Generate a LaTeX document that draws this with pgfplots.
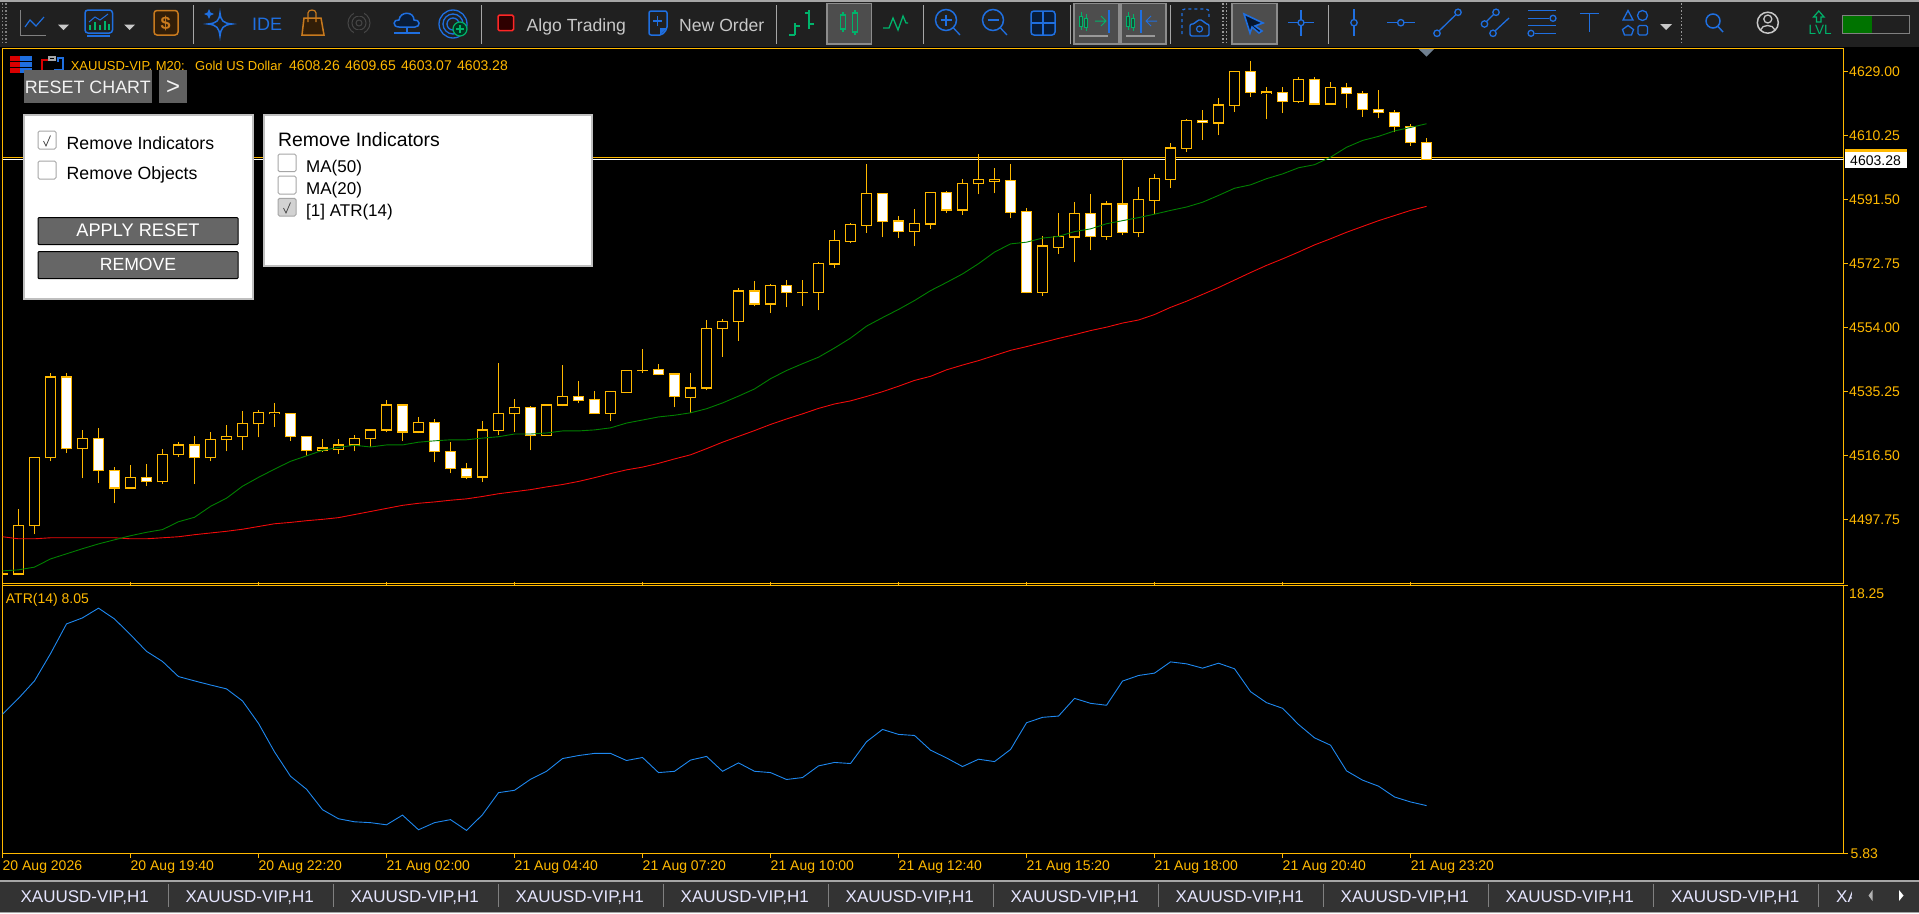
\documentclass[border=0pt]{standalone}
\usepackage{pgfplots}
\usepackage{pgfplotstable}
\usepackage{fontspec}
\setmainfont{Liberation Sans}
\pgfplotsset{compat=1.18}
\definecolor{gld}{HTML}{FFB900}
\definecolor{ma20}{HTML}{008000}
\definecolor{ma50}{HTML}{F00A0A}
\definecolor{atrc}{HTML}{1E88F0}
\definecolor{barbg}{HTML}{202020}
\definecolor{tabbg}{HTML}{333333}
\definecolor{ib}{HTML}{1F6FE0}
\definecolor{ig}{HTML}{00B36B}
\definecolor{io}{HTML}{C87A1E}
\definecolor{btn}{HTML}{666666}
\definecolor{txt}{HTML}{C8C8C8}
\definecolor{slate}{HTML}{708090}
\newcommand\fs[1]{\fontsize{#1}{#1}\selectfont}
% n low bot top high (bull = hollow body)
\pgfplotstableread{
n lo bot top hi
0 4481.6 4481.6 4481.9 4481.9
1 4481.4 4481.8 4495.9 4500.7
2 4493.4 4495.9 4515.8 4516.2
3 4514.8 4515.8 4539.5 4540.8
5 4509.8 4518.5 4521.4 4524.1
8 4507.0 4507.0 4510.0 4513.6
10 4508.1 4508.8 4516.7 4518.5
11 4516.0 4516.7 4519.6 4520.5
13 4514.8 4515.8 4521.1 4523.5
14 4517.7 4521.1 4522.0 4525.3
15 4518.0 4522.0 4525.8 4529.4
16 4521.8 4525.8 4529.0 4529.7
17 4524.8 4528.7 4529.1 4532.0
20 4517.5 4517.9 4518.7 4521.2
21 4516.9 4518.2 4519.6 4521.2
22 4517.7 4519.6 4521.4 4522.6
23 4519.0 4521.4 4524.0 4524.3
24 4523.3 4524.0 4531.3 4532.9
26 4523.0 4523.4 4526.1 4527.9
30 4508.7 4510.2 4524.0 4526.7
31 4522.4 4523.9 4528.7 4543.7
32 4523.5 4528.7 4530.5 4533.2
34 4522.3 4522.3 4531.3 4531.7
35 4530.9 4531.3 4533.7 4542.9
38 4526.5 4528.9 4535.2 4535.5
39 4535.0 4535.0 4541.3 4541.3
40 4540.6 4541.3 4541.5 4547.8
43 4529.0 4533.6 4536.3 4540.7
44 4535.6 4536.3 4553.6 4556.3
45 4545.3 4553.6 4555.7 4556.6
46 4550.0 4555.7 4564.7 4565.7
48 4558.2 4560.9 4566.2 4566.8
50 4560.4 4564.2 4564.2 4568.0
51 4559.0 4564.2 4572.7 4573.3
52 4571.4 4572.6 4579.4 4582.7
53 4578.7 4579.3 4584.1 4584.7
54 4581.8 4584.0 4593.2 4602.0
57 4577.8 4582.2 4584.4 4588.8
58 4582.8 4584.3 4593.5 4593.5
60 4586.9 4588.4 4596.1 4597.6
61 4593.0 4596.1 4597.3 4604.7
62 4593.3 4596.9 4597.3 4600.6
65 4563.2 4564.3 4577.9 4580.9
66 4575.5 4577.5 4580.6 4587.6
67 4573.1 4580.5 4587.3 4590.9
69 4579.6 4580.7 4590.2 4591.2
71 4580.4 4581.9 4591.4 4595.3
72 4587.2 4591.3 4597.6 4599.1
73 4595.0 4597.4 4606.6 4608.1
74 4605.4 4606.5 4614.6 4615.1
76 4610.3 4613.9 4619.2 4621.1
77 4617.1 4619.1 4628.9 4628.9
79 4615.0 4622.6 4623.0 4624.6
81 4619.9 4620.3 4626.6 4627.5
83 4619.5 4619.5 4624.2 4625.8
}\bull
% n low bot top high (bear = white body)
\pgfplotstableread{
n lo bot top hi
4 4517.2 4518.5 4539.5 4540.8
6 4508.4 4512.0 4521.4 4524.7
7 4502.5 4507.0 4512.0 4513.0
9 4507.5 4508.8 4510.0 4513.9
12 4508.1 4515.8 4519.6 4522.3
18 4520.7 4522.0 4528.7 4529.1
19 4516.4 4517.9 4522.0 4522.3
25 4520.7 4523.4 4531.3 4531.3
27 4514.5 4517.6 4526.1 4527.2
28 4511.3 4512.6 4517.6 4520.6
29 4509.5 4510.2 4512.6 4514.4
33 4518.0 4522.3 4530.5 4531.1
36 4531.8 4532.7 4533.7 4538.2
37 4528.9 4528.9 4532.8 4535.5
41 4540.0 4540.3 4541.6 4543.2
42 4530.6 4533.7 4540.4 4540.7
47 4560.2 4560.9 4564.7 4567.5
49 4559.9 4564.2 4566.2 4567.8
55 4580.4 4585.1 4593.2 4593.2
56 4580.2 4582.2 4585.2 4586.8
59 4587.5 4588.4 4593.5 4594.1
63 4586.0 4587.8 4597.0 4601.8
64 4564.0 4564.3 4587.9 4589.1
68 4576.6 4580.7 4587.3 4593.0
70 4581.0 4581.9 4590.2 4603.5
75 4608.9 4614.0 4614.6 4617.6
78 4621.5 4622.9 4628.9 4632.2
80 4616.8 4620.3 4622.8 4624.6
82 4619.5 4619.5 4626.6 4627.5
84 4618.2 4622.5 4624.2 4625.5
85 4615.6 4617.8 4622.5 4623.4
86 4615.3 4616.9 4617.8 4623.7
87 4611.2 4612.8 4616.9 4617.6
88 4607.3 4608.1 4612.8 4613.5
89 4603.07 4603.28 4608.26 4609.65
}\bear
\pgfplotstableread{
n maa mab atr
0 4482.7 4492.7 12.28
1 4483.0 4492.1 13.02
2 4483.8 4492.1 13.83
3 4486.2 4492.4 15.09
4 4487.7 4492.4 16.47
5 4489.2 4492.4 16.75
6 4490.6 4492.4 17.20
7 4491.8 4492.4 16.70
8 4493.0 4492.1 15.97
9 4494.0 4492.1 15.20
10 4494.8 4492.4 14.73
11 4497.1 4492.7 14.03
12 4498.4 4493.3 13.83
13 4501.6 4493.8 13.64
14 4504.0 4494.3 13.46
15 4507.5 4494.9 12.90
16 4510.1 4495.7 11.86
17 4512.5 4496.5 10.54
18 4514.8 4496.9 9.41
19 4516.4 4497.4 8.81
20 4518.0 4497.8 7.86
21 4518.9 4498.3 7.44
22 4519.5 4499.2 7.30
23 4519.0 4500.1 7.26
24 4519.6 4501.0 7.16
25 4519.6 4501.9 7.61
26 4520.4 4502.5 6.93
27 4520.8 4502.9 7.26
28 4521.1 4503.4 7.40
29 4521.1 4503.8 6.90
30 4521.6 4504.5 7.63
31 4522.0 4505.3 8.65
32 4522.8 4505.9 8.76
33 4522.8 4506.5 9.27
34 4523.1 4507.3 9.64
35 4523.7 4508.0 10.23
36 4523.7 4508.9 10.37
37 4524.0 4510.0 10.47
38 4524.6 4511.2 10.47
39 4526.0 4512.3 10.14
40 4526.9 4513.1 10.28
41 4527.8 4514.2 9.58
42 4528.3 4515.5 9.64
43 4529.0 4516.7 10.16
44 4530.2 4518.5 10.33
45 4531.9 4520.4 9.64
46 4533.9 4522.1 10.03
47 4536.0 4523.8 9.64
48 4539.0 4525.6 9.58
49 4541.4 4527.2 9.26
50 4543.4 4528.7 9.35
51 4545.3 4530.3 9.89
52 4548.0 4531.6 10.05
53 4550.9 4532.5 10.00
54 4554.4 4533.8 11.01
55 4556.9 4535.2 11.58
56 4559.3 4536.8 11.35
57 4561.9 4538.5 11.30
58 4564.8 4539.7 10.62
59 4567.2 4541.6 10.26
60 4569.7 4543.0 9.86
61 4572.7 4544.3 10.20
62 4576.1 4545.8 10.09
63 4578.5 4547.3 10.65
64 4579.0 4548.4 11.89
65 4580.2 4549.6 12.14
66 4580.7 4550.8 12.20
67 4582.1 4551.9 13.02
68 4582.9 4553.1 12.79
69 4584.4 4554.1 12.70
70 4585.3 4555.3 13.82
71 4586.2 4556.2 14.08
72 4587.2 4557.8 14.19
73 4588.3 4559.9 14.71
74 4589.3 4561.7 14.62
75 4590.7 4563.7 14.42
76 4592.7 4565.7 14.65
77 4594.8 4567.9 14.39
78 4595.8 4570.1 13.33
79 4597.6 4572.2 12.82
80 4599.0 4574.1 12.56
81 4600.8 4576.1 11.81
82 4601.7 4578.2 11.19
83 4603.9 4580.0 10.85
84 4606.8 4581.9 9.66
85 4608.8 4583.6 9.23
86 4610.0 4585.3 8.95
87 4611.6 4586.8 8.45
88 4612.6 4588.3 8.22
89 4613.7 4589.5 8.05
}\ind
\pgfplotsset{
  mt/.style={scale only axis, width=1841pt, xmin=0, xmax=115.06,
    axis line style={gld, line width=1.2pt},
    tick style={gld, line width=1.2pt}, major tick length=4pt, tick align=outside,
    ytick pos=right, yticklabel pos=right,
    tick label style={font=\fs{14}, text=gld, inner sep=0pt}},
  body/.style 2 args={forget plot, draw=none, no markers,
    error bars/.cd, y dir=plus, y explicit, error mark=none,
    error bar style={solid, draw=#1, line width=#2}},
}
\begin{document}
\begin{tikzpicture}
\path[use as bounding box] (0,0) rectangle (1919pt,-913pt);
\fill[black] (0,0) rectangle (1919pt,-913pt);
\begin{axis}[mt, at={(2.5pt,-48.5pt)}, anchor=north west, height=535pt,
  ymin=4479, ymax=4635.74, xtick=\empty,
  ytick={4497.75,4516.50,4535.25,4554.00,4572.75,4591.50,4610.25,4629.00},
  yticklabels={4497.75,4516.50,4535.25,4554.00,4572.75,4591.50,4610.25,4629.00},
  yticklabel style={anchor=west, xshift=1.5pt}]
\addplot[forget plot, gld, line width=1.2pt] coordinates {(0,4603.87) (115.06,4603.87)};
\addplot[forget plot, white, line width=1.2pt] coordinates {(0,4603.28) (115.06,4603.28)};
\addplot[body={gld}{1.2pt}] table[x=n, y=lo, y error expr=\thisrow{hi}-\thisrow{lo}] {\bull};
\addplot[body={gld}{1.2pt}] table[x=n, y=lo, y error expr=\thisrow{hi}-\thisrow{lo}] {\bear};
\addplot[body={gld}{11.4pt}] table[x=n, y expr=\thisrow{bot}-0.175, y error expr=\thisrow{top}-\thisrow{bot}+0.35] {\bull};
\addplot[body={gld}{11.4pt}] table[x=n, y expr=\thisrow{bot}-0.175, y error expr=\thisrow{top}-\thisrow{bot}+0.35] {\bear};
\addplot[body={black}{9pt}] table[x=n, y expr=\thisrow{bot}+0.175, y error expr={max(0,\thisrow{top}-\thisrow{bot}-0.35)}] {\bull};
\addplot[body={white}{9pt}] table[x=n, y expr=\thisrow{bot}+0.175, y error expr={max(0,\thisrow{top}-\thisrow{bot}-0.35)}] {\bear};
\addplot[forget plot, ma50, line width=0.9pt] table[x=n, y=mab] {\ind};
\addplot[forget plot, ma20, line width=0.9pt] table[x=n, y=maa] {\ind};
\end{axis}
\begin{axis}[mt, at={(2.5pt,-585.5pt)}, anchor=north west, height=268pt,
  ymin=5.83, ymax=18.25,
  xtick={0,8,16,24,32,40,48,56,64,72,80,88},
  xticklabels={20 Aug 2026,20 Aug 19:40,20 Aug 22:20,21 Aug 02:00,21 Aug 04:40,21 Aug 07:20,21 Aug 10:00,21 Aug 12:40,21 Aug 15:20,21 Aug 18:00,21 Aug 20:40,21 Aug 23:20},
  xticklabel style={anchor=north west, yshift=-3pt},
  ytick={18.25}, yticklabels={18.25},
  yticklabel style={anchor=west, xshift=1.5pt, yshift=-8pt},
  extra y ticks={5.83}, extra y tick labels={5.83},
  extra y tick style={yticklabel style={anchor=west, xshift=1.5pt, yshift=8pt}}]
\addplot[forget plot, atrc, line width=0.9pt] table[x=n, y=atr] {\ind};
\end{axis}
\begin{scope}[x=1pt, y=-1pt, every node/.style={inner sep=0pt, anchor=base west}]
% toolbar
\fill[barbg] (0,0) rectangle (1919,46.5);
\fill[gray!70] (0,0) rectangle (1919,1.8);
% tab bar
\fill[tabbg] (0,880) rectangle (1919,913);
\fill[gray!70] (0,880) rectangle (1919,881.5);
\fill[gray!70] (0,911.5) rectangle (1919,913);
\foreach \x in {20.4,185.4,350.4,515.5,680.5,845.5,1010.5,1175.5,1340.5,1505.5,1671} {
  \node[text=white!90!blue] at (\x,902.7) {\fs{17}XAUUSD-VIP,H1};
}
\foreach \x in {168.6,333.5,498.4,663.4,828.4,993.4,1158.4,1323.4,1488.4,1653.4,1818.4} {
  \draw[gray, line width=0.8pt] (\x,884) -- (\x,907);
}
\begin{scope}\clip (1830,880) rectangle (1851,913);
\node[text=white!90!blue] at (1836,902.7) {\fs{17}XAUUSD-VIP,H1};\end{scope}
\fill[gray!60] (1872.5,890) -- (1872.5,901) -- (1868.5,895.5) -- cycle;
\fill[white] (1899,890) -- (1899,901) -- (1903.5,895.5) -- cycle;
% toolbar grips and separators
\foreach \x in {2.5,6} \draw[gray, line width=1.5pt, dash pattern=on 1.5pt off 2pt] (\x,3) -- (\x,44);
\foreach \x in {1223,1226.5} \draw[gray!80, line width=1.5pt, dash pattern=on 1.5pt off 2pt] (\x,3) -- (\x,44);
\draw[gray!80, line width=1.5pt, dash pattern=on 1.5pt off 2pt] (1681.6,3) -- (1681.6,44);
\foreach \x in {193.5,481.6,776,923,1070,1170.6,1328.6} \draw[gray!70, line width=0.8pt] (\x,5) -- (\x,44);
% left icons
\draw[gray, line width=1pt] (20.4,10) -- (20.4,35) -- (45.7,35);
\draw[ib, line width=1.2pt] (25,27) -- (30,20) -- (36,26) -- (44,17);
\foreach \x in {58,124} \fill[txt] (\x,24.5) -- (\x+11,24.5) -- (\x+5.5,30) -- cycle;
\draw[ib, line width=1.5pt, rounded corners=3pt] (85,10) rectangle (112.5,33);
\draw[ib, line width=1.2pt] (87,36) -- (110,36);
\draw[ib, line width=1pt] (89,22) -- (95,17) -- (100,20) -- (108,14);
\foreach \x/\h in {90/5,95/8,100/5,105/9,109/6} \draw[ig, line width=1.3pt] (\x,30) -- (\x,30-\h);
\draw[io, line width=1.5pt, rounded corners=3pt, fill=io!25!black] (154,10.5) rectangle (178,35);
\node[text=io] at (160.5,29.5) {\fs{18}\textbf{\$}};
\draw[ib, line width=1.5pt] (220,13) .. controls (221,21) and (223,23) .. (232,24) .. controls (223,25) and (221,28) .. (220,36) .. controls (219,28) and (217,25) .. (208,24) .. controls (217,23) and (219,21) .. (220,13) -- cycle;
\fill[ib] (209,9) -- (210.5,12.5) -- (214,14) -- (210.5,15.5) -- (209,19) -- (207.5,15.5) -- (204,14) -- (207.5,12.5) -- cycle;
\node[text=ib] at (252,30) {\fs{18}IDE};
\draw[io, line width=1.5pt, fill=io!25!black] (304,18) -- (321,18) -- (324,35) -- (302,35) -- cycle;
\draw[io, line width=1.2pt] (308,22) -- (308,13) .. controls (308,9) and (316,9) .. (316,13) -- (316,22);
\foreach \r in {3,7,11} \draw[gray!55!black, line width=1pt] (359,23) circle[radius=\r];
\fill[barbg] (354,10) rectangle (364,16); \fill[barbg] (354,30) rectangle (364,36);
\draw[ib, line width=1.5pt, fill=ib!25!black] (399,27) .. controls (392,27) and (393,19) .. (399,20) .. controls (400,11) and (414,11) .. (414,20) .. controls (420,19) and (421,27) .. (415,27) -- cycle;
\draw[ib, line width=1.2pt] (407,27) -- (407,33); \draw[ib, line width=1.2pt] (394,33) -- (420,33);
\foreach \r in {6,10,14} \draw[ib, line width=1.3pt] (453,24) circle[radius=\r];
\draw[ig, line width=1.2pt, fill=black!70!ig] (460,29) circle[radius=7];
\draw[ig, line width=1.2pt] (456,29) -- (464,29) (460,25) -- (460,33);
\draw[red!85!white, line width=1.5pt, fill=red!18!black, rounded corners=1.5pt] (498,15) rectangle (513.5,30.7);
\node[text=txt] at (526.5,31) {\fs{17.6}Algo Trading};
\draw[ib, line width=1.5pt, rounded corners=2pt] (649,11) -- (649,35) -- (662,35) -- (667,29) -- (667,11) -- cycle;
\fill[ib] (660,35) -- (667,28) -- (660,28) -- cycle;
\draw[ib, line width=1.2pt] (653,21) -- (662,21) (657.5,16) -- (657.5,26);
\node[text=txt] at (679,31) {\fs{17.6}New Order};
% chart-type buttons
\foreach \a/\b in {827/871.5,1074/1119,1121/1166,1232/1277} {
  \draw[gray!90!white, line width=1.3pt, fill=white!20!barbg] (\a,3.5) rectangle (\b,44);
}
\draw[ig, line width=1.2pt] (795,23) -- (795,35) (789,35) -- (795,35) (795,26) -- (800,26) (809,10) -- (809,29) (805,13) -- (809,13) (809,24) -- (814,24);
\foreach \x/\a/\b in {843/12/32,855/10/35} {
  \draw[ig, line width=1.2pt] (\x,\a) -- (\x,\b);
  \fill[white!20!barbg, draw=ig, line width=1.2pt] (\x-2.8,\a+3) rectangle (\x+2.8,\b-3);
}
\draw[ig, line width=1.3pt] (883,28) -- (889,28) -- (893,18) -- (898,30) -- (903,16) -- (906,23) -- (908,23);
\foreach \x in {946,993} {
  \draw[ib, line width=1.5pt] (\x,20) circle[radius=10.5];
  \draw[ib, line width=1.3pt] (\x+7.5,28) -- (\x+14,35);
  \draw[ib, line width=1.3pt] (\x-5.5,20) -- (\x+5.5,20);
}
\draw[ib, line width=1.3pt] (946,14.5) -- (946,25.5);
\draw[ib, line width=1.5pt, fill=ib!25!black, rounded corners=3pt] (1031,11) rectangle (1055,35);
\draw[ib, line width=1.3pt] (1043,11) -- (1043,35) (1031,23) -- (1055,23);
\foreach \x in {1081,1128} {
  \foreach \d/\a/\b in {0/12/30,5/14/31} {
    \draw[ig, line width=1pt] (\x+\d,\a) -- (\x+\d,\b);
    \draw[ig, line width=1pt, fill=ig!30!barbg] (\x+\d-1.5,\a+4) rectangle (\x+\d+1.5,\b-4);
  }
  \draw[gray!80!white, line width=1.2pt] (\x-2,36) -- (\x+27,36);
}
\draw[ig, line width=1pt] (1095,21) -- (1106,21) (1101,16) -- (1106,21) -- (1101,26);
\draw[ib, line width=1.3pt] (1109,10) -- (1109,33);
\draw[ib, line width=1.3pt] (1141,10) -- (1141,33);
\draw[ib, line width=1pt] (1157,21) -- (1146,21) (1151,16) -- (1146,21) -- (1151,26);
\draw[ib, line width=1.3pt, dash pattern=on 3pt off 3pt, rounded corners=3pt] (1182,34) -- (1182,9) -- (1209,9) -- (1209,17);
\draw[ib, line width=1.4pt, rounded corners=2pt] (1190,24) -- (1195,24) -- (1197,20) -- (1203,20) -- (1205,24) -- (1209,24) -- (1209,36) -- (1190,36) -- cycle;
\draw[ib, line width=1.2pt] (1199.5,29) circle[radius=3];
\draw[ib, line width=1.6pt, fill=ib!20!black] (1244,14) -- (1263,23) -- (1255,26) -- (1262,31) -- (1259,33) -- (1252,27) -- (1250,33) -- cycle;
% right tools
\draw[ib, line width=1.3pt] (1288,22.7) -- (1314,22.7) (1301,10) -- (1301,36);
\draw[ib, line width=1.3pt, fill=barbg] (1301,22.7) circle[radius=3];
\draw[ib, line width=1.3pt] (1354,9) -- (1354,36);
\draw[ib, line width=1.3pt, fill=barbg] (1354,22.7) circle[radius=3.2];
\draw[ib, line width=1.3pt] (1387,22.7) -- (1414.7,22.7);
\draw[ib, line width=1.3pt, fill=barbg] (1400.8,22.7) circle[radius=3.2];
\draw[ib, line width=1.3pt] (1439,31) -- (1456,14.5);
\draw[ib, line width=1.3pt, fill=barbg] (1437,33.3) circle[radius=3.2];
\draw[ib, line width=1.3pt, fill=barbg] (1458,12.3) circle[radius=3.2];
\draw[ib, line width=1.3pt] (1486,22) -- (1494,14) (1495,31) -- (1509,18);
\draw[ib, line width=1.3pt, fill=barbg] (1484.5,24) circle[radius=3.2];
\draw[ib, line width=1.3pt, fill=barbg] (1496,12.3) circle[radius=3.2];
\draw[ib, line width=1.3pt, fill=barbg] (1493,33.3) circle[radius=3.2];
\draw[ib, line width=1.3pt] (1528,10.7) -- (1556,10.7) (1528,18.3) -- (1549,18.3) (1528,25.7) -- (1556,25.7) (1535,33.3) -- (1556,33.3);
\draw[ib, line width=1.3pt, fill=barbg] (1553,18.3) circle[radius=3];
\draw[ib, line width=1.3pt, fill=barbg] (1531,33.3) circle[radius=3];
\draw[ib, line width=1.4pt] (1580,13.5) -- (1599,13.5) (1589.5,13.5) -- (1589.5,32);
\draw[ib, line width=1.3pt] (1623,20) -- (1633,20) -- (1628,10.5) -- cycle;
\draw[ib, line width=1.3pt] (1642.5,15.5) circle[radius=5];
\draw[ib, line width=1.3pt] (1628,25.5) -- (1633.5,29.5) -- (1631.5,35) -- (1624.5,35) -- (1622.5,29.5) -- cycle;
\draw[ib, line width=1.3pt, rounded corners=1.5pt] (1638,25.5) rectangle (1647.5,35);
\fill[txt] (1660,24) -- (1672,24) -- (1666,30) -- cycle;
\draw[ib, line width=1.5pt] (1713,21) circle[radius=7];
\draw[ib, line width=1.5pt] (1718,26.5) -- (1723,32);
\draw[txt, line width=1.5pt] (1767.8,22.7) circle[radius=10.5];
\draw[txt, line width=1.3pt] (1767.8,19) circle[radius=4];
\draw[txt, line width=1.3pt] (1760.5,30) .. controls (1762,24) and (1773,24) .. (1775,30);
\draw[ig, line width=1.2pt] (1818.8,11) -- (1813.5,17) -- (1816.5,17) -- (1816.5,22) -- (1821,22) -- (1821,17) -- (1824,17) -- cycle;
\node[text=ig] at (1808.5,34.5) {\fs{13.5}LVL};
\draw[gray, line width=1.2pt] (1842.5,15.2) rectangle (1909.4,33.3);
\fill[green!45!black] (1843.2,15.8) rectangle (1871.8,32.7);
% header
\fill[red!85!black] (9.5,56) rectangle (20,73);
\fill[ib] (20,56) rectangle (31.5,73);
\draw[black, line width=1pt] (9.5,61) -- (31.5,61) (9.5,67) -- (31.5,67);
\draw[red!85!black, line width=1.5pt] (42,70) -- (42,60) -- (51,60);
\draw[ib, line width=1.5pt] (54,70) -- (63,70) -- (63,58) -- (58,58) -- (58,62);
\draw[gray!70, line width=1.5pt] (49,57) rectangle (55,60);
\node[text=gld] at (70.6,70) {\fs{13}XAUUSD-VIP, M20:};
\node[text=gld] at (195,70) {\fs{13}Gold US Dollar};
\foreach \x/\t in {289/4608.26,345/4609.65,401/4603.07,457/4603.28} \node[text=gld] at (\x,70) {\fs{14}\t};
\node[text=gld] at (5.7,603) {\fs{14}ATR(14) 8.05};
% triangle, price label
\fill[slate] (1418.7,49) -- (1434.2,49) -- (1426.5,56.7) -- cycle;
\fill[white] (1845,149) rectangle (1906.6,167.7);
\fill[gld] (1845,149) rectangle (1906.6,152);
\node[text=black] at (1850,165) {\fs{14}4603.28};
% reset controls
\fill[btn!95!black] (24,70) rectangle (152,102.7);
\fill[btn!95!black] (159,70) rectangle (187,102.7);
\node[text=white!90!gray] at (24.6,93.3) {\fs{17.9}RESET CHART};
\node[text=white!90!gray] at (166,94) {\fs{24}>};
% panel 1
\draw[gray!50, line width=2pt, fill=white] (24,115.3) rectangle (252.5,298.5);
\foreach \y in {131,161} {
  \draw[gray!70, line width=1pt, rounded corners=1.5pt] (38,\y) rectangle (56,\y+18);
}
\draw[black!70, line width=0.8pt] (43.5,141) -- (46,146) -- (50.5,135.5);
\node[text=black] at (66.5,149) {\fs{17.7}Remove Indicators};
\node[text=black] at (66.5,179) {\fs{17.7}Remove Objects};
\draw[black, line width=1pt, fill=btn, rounded corners=1pt] (38,217.5) rectangle (238,244.7);
\draw[black, line width=1pt, fill=btn, rounded corners=1pt] (38,251.5) rectangle (238,278.7);
\node[text=white, anchor=base] at (138,236.7) {\fs{18.2}APPLY RESET};
\node[text=white, anchor=base] at (138,270.7) {\fs{17.6}REMOVE};
% panel 2
\draw[gray!50, line width=2pt, fill=white] (264,115.3) rectangle (592,265.7);
\node[text=black] at (278,146) {\fs{19.4}Remove Indicators};
\draw[gray!70, line width=1pt, rounded corners=1.5pt] (278,154) rectangle (296,171.7);
\draw[gray!70, line width=1pt, rounded corners=1.5pt] (278,176) rectangle (296,194);
\draw[gray!70, line width=1pt, rounded corners=1.5pt, fill=gray!35] (278,198.3) rectangle (296,216);
\draw[black!70, line width=0.8pt] (283.5,208) -- (286,213) -- (290.5,202.5);
\node[text=black] at (306,172) {\fs{17}MA(50)};
\node[text=black] at (306,194) {\fs{17}MA(20)};
\node[text=black] at (306,216) {\fs{17}[1] ATR(14)};
\end{scope}
\end{tikzpicture}
\end{document}
